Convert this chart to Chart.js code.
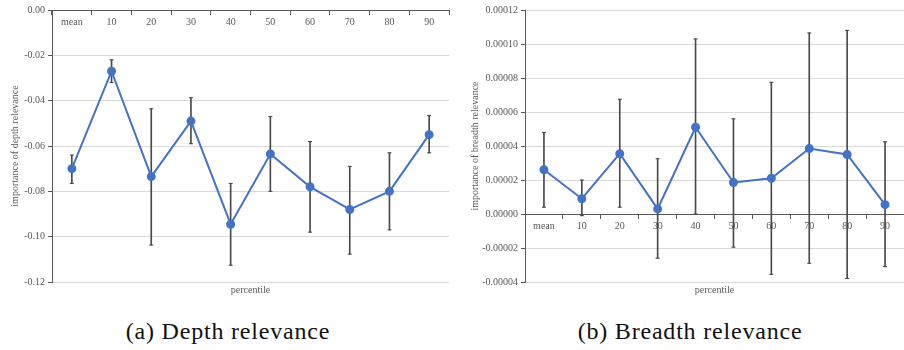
<!DOCTYPE html>
<html>
<head>
<meta charset="utf-8">
<script src="https://cdn.jsdelivr.net/npm/chart.js@4"></script>
<style>
  body { margin: 0; width: 904px; height: 350px; overflow: hidden; background: #ffffff; position: relative; }
  .box { position: absolute; top: 0; }
  .caption { position: absolute; top: 317px; width: 300px; text-align: center; font-family: "Liberation Serif", serif; font-size: 24px; line-height: 28px; letter-spacing: 0.8px; color: #111; }
</style>
</head>
<body>
<div class="box" style="left:0px"><canvas id="depth" width="455" height="300"></canvas></div>
<div class="box" style="left:455px"><canvas id="breadth" width="455" height="300"></canvas></div>
<div class="caption" style="left:78px">(a) Depth relevance</div>
<div class="caption" style="left:540px">(b) Breadth relevance</div>
<script>
const categories = ['mean', '10', '20', '30', '40', '50', '60', '70', '80', '90'];

const depthMean = [-0.070, -0.027, -0.0735, -0.049, -0.0945, -0.0635, -0.078, -0.088, -0.080, -0.055];
const depthHigh = [-0.064, -0.022, -0.0436, -0.0387, -0.0765, -0.047, -0.058, -0.069, -0.063, -0.0465];
const depthLow = [-0.0765, -0.032, -0.1037, -0.059, -0.1126, -0.080, -0.098, -0.1077, -0.097, -0.063];
const depthTicks = [-0.12, -0.10, -0.08, -0.06, -0.04, -0.02, 0];

const breadthMean = [0.000026, 0.000009, 0.0000355, 0.000003, 0.000051, 0.0000185, 0.000021, 0.0000385, 0.000035, 0.0000055];
const breadthHigh = [0.000048, 0.000020, 0.0000675, 0.0000325, 0.000103, 0.000056, 0.0000775, 0.0001065, 0.000108, 0.0000425];
const breadthLow = [0.000004, -0.000001, 0.000004, -0.000026, 0.0, -0.0000195, -0.0000355, -0.000029, -0.000038, -0.000031];
const breadthTicks = [-0.00004, -0.00002, 0, 0.00002, 0.00004, 0.00006, 0.00008, 0.00010, 0.00012];

const axisGray = '#595959';
const gridGray = '#d9d9d9';
const small = { family: '"Liberation Serif", serif', size: 10 };

function makeChart(id, opts) {
    let ctx = document.getElementById(id);
    return new Chart(ctx, {
        type: 'bar',
        data: {
            labels: categories,
            datasets: [{
                type: 'line',
                data: opts.mean,
                borderColor: '#4472C4',
                backgroundColor: '#4472C4',
                borderWidth: 2,
                pointRadius: 3.5,
                pointBackgroundColor: '#4472C4',
                pointBorderColor: '#4472C4',
                tension: 0,
                order: 1
            }, {
                type: 'line',
                data: opts.high,
                showLine: false,
                pointStyle: 'line',
                pointRadius: 2,
                pointBorderWidth: 1,
                pointBorderColor: '#404040',
                order: 2
            }, {
                type: 'line',
                data: opts.low,
                showLine: false,
                pointStyle: 'line',
                pointRadius: 2,
                pointBorderWidth: 1,
                pointBorderColor: '#404040',
                order: 2
            }, {
                type: 'bar',
                data: categories.map((c, i) => [opts.low[i], opts.high[i]]),
                backgroundColor: '#4a4a4a',
                barThickness: 1,
                borderWidth: 0,
                order: 3
            }]
        },
        options: {
            responsive: false,
            animation: false,
            layout: { padding: { left: 0, top: 10, right: opts.padRight, bottom: 4 } },
            plugins: { legend: { display: false }, tooltip: { enabled: false } },
            scales: {
                x: {
                    type: 'category',
                    position: { y: 0 },
                    offset: true,
                    grid: { display: true, drawOnChartArea: false, offset: true, tickLength: 4, color: axisGray },
                    border: { display: true, color: axisGray },
                    ticks: { font: small, color: axisGray, padding: 2, maxRotation: 0, autoSkip: false }
                },
                x2: {
                    type: 'category',
                    axis: 'x',
                    position: 'bottom',
                    offset: true,
                    ticks: { display: false },
                    grid: { display: false, drawTicks: false },
                    border: { display: false },
                    title: { display: true, text: 'percentile', font: small, color: axisGray, padding: { top: 2, bottom: 0 } }
                },
                y: {
                    type: 'linear',
                    position: 'left',
                    min: opts.ticks[0],
                    max: opts.ticks[opts.ticks.length - 1],
                    afterBuildTicks: s => { s.ticks = opts.ticks.map(v => ({ value: v })); },
                    afterFit: s => { s.width = opts.axisWidth; },
                    ticks: { font: small, color: axisGray, padding: 3, callback: v => v.toFixed(opts.digits) },
                    grid: {
                        color: c => (c.tick && c.tick.value === 0) ? axisGray : gridGray,
                        tickColor: axisGray,
                        tickLength: 4
                    },
                    border: { color: axisGray },
                    title: { display: true, text: opts.title, font: small, color: axisGray, padding: { top: opts.titlePad, bottom: 0 } }
                }
            }
        }
    });
}

makeChart('depth', {
    mean: depthMean, high: depthHigh, low: depthLow, ticks: depthTicks,
    digits: 2, axisWidth: 52, padRight: 2, titlePad: 9,
    title: 'importance of depth relevance'
});

makeChart('breadth', {
    mean: breadthMean, high: breadthHigh, low: breadthLow, ticks: breadthTicks,
    digits: 5, axisWidth: 70, padRight: 0, titlePad: 14,
    title: 'importance of breadth relevance'
});
</script>
</body>
</html>
